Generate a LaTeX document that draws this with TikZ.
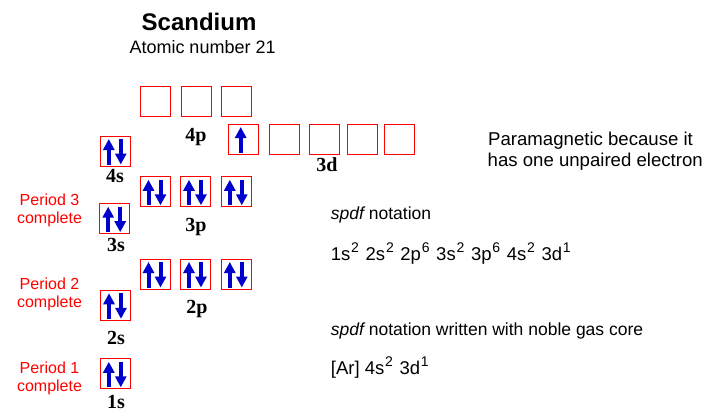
\documentclass[tikz,border=0pt]{standalone}
\usepackage{fontspec}
\setmainfont{Liberation Serif}
\setsansfont{Liberation Sans}
\usetikzlibrary{arrows.meta}
\definecolor{eblue}{RGB}{0,0,204}
\definecolor{ored}{RGB}{255,0,0}
\newcommand\elup[2]{\draw[el] ([shift={(#2,13.5)}]#1.center) -- ([shift={(#2,-12)}]#1.center);}
\newcommand\eldown[2]{\draw[el] ([shift={(#2,-12)}]#1.center) -- ([shift={(#2,13.5)}]#1.center);}
\newcommand\elpair[1]{\elup{#1}{-6.5}\eldown{#1}{5.5}}
\newcommand\sps[1]{\hspace{0.8pt}\raisebox{0.4em}{\fontsize{14}{14}\selectfont #1}\hspace{1.5pt}}
\begin{document}
\begin{tikzpicture}[x=1pt,y=-1pt,
  orb/.style={draw=ored,line width=0.9pt,minimum size=30pt,inner sep=0pt},
  lbl/.style={font=\fontsize{20}{22}\selectfont\bfseries,anchor=base,inner sep=0pt},
  txt/.style={font=\sffamily\fontsize{18}{20}\selectfont,anchor=base west,inner sep=0pt},
  note/.style={font=\sffamily\fontsize{17.5}{20}\selectfont,anchor=base west,inner sep=0pt},
  cfg/.style={font=\sffamily\fontsize{18.5}{20}\selectfont,anchor=base west,inner sep=0pt},
  per/.style={font=\sffamily\fontsize{16}{18}\selectfont,text=ored,anchor=base,inner sep=0pt},
  el/.style={draw=eblue,line width=4pt,-{Triangle[width=11pt,length=11pt]}}
]
\useasboundingbox (0,0) rectangle (709,412);
% title
\node[font=\sffamily\bfseries\fontsize{24}{26}\selectfont,anchor=base,inner sep=0pt] (title) at (199,30.5) {Scandium};
\node[txt] (anum) at (129.3,53.5) {Atomic number 21};
% orbital boxes
\node[orb] (s4) at (115.3,151) {};
\node[orb] (p4a) at (155.5,101.3) {};
\node[orb] (p4b) at (196,101.3) {};
\node[orb] (p4c) at (236.5,101.3) {};
\node[orb] (d3a) at (243.7,139) {};
\node[orb] (d3b) at (284,139) {};
\node[orb] (d3c) at (324.7,139) {};
\node[orb] (d3d) at (362.2,139) {};
\node[orb] (d3e) at (399.3,139) {};
\node[orb] (p3a) at (155,191.8) {};
\node[orb] (p3b) at (195.5,191.8) {};
\node[orb] (p3c) at (236.3,191.8) {};
\node[orb] (s3) at (114.7,218.7) {};
\node[orb] (p2a) at (155,274) {};
\node[orb] (p2b) at (195.5,274) {};
\node[orb] (p2c) at (236.3,274) {};
\node[orb] (s2) at (115.5,305.3) {};
\node[orb] (s1) at (115.3,373.8) {};
% electrons
\elpair{s4}
\elup{d3a}{-3}
\elpair{p3a}\elpair{p3b}\elpair{p3c}
\elpair{s3}
\elpair{p2a}\elpair{p2b}\elpair{p2c}
\elpair{s2}
\elpair{s1}
% subshell labels
\node[lbl] (l4s) at (115,182) {4s};
\node[lbl] (l4p) at (196,141) {4p};
\node[lbl] (l3d) at (327,171.5) {3d};
\node[lbl] (l3p) at (196,231.5) {3p};
\node[lbl] (l3s) at (116,251.5) {3s};
\node[lbl] (l2p) at (197,313) {2p};
\node[lbl] (l2s) at (116,344) {2s};
\node[lbl] (l1s) at (116,408.5) {1s};
% period labels
\node[per] (p3l1) at (49.5,205) {Period 3};
\node[per] (p3l2) at (49.5,223.3) {complete};
\node[per] (p2l1) at (49.5,289) {Period 2};
\node[per] (p2l2) at (49.5,307) {complete};
\node[per] (p1l1) at (49.5,373) {Period 1};
\node[per] (p1l2) at (49.5,391) {complete};
% right-hand text
\node[font=\sffamily\fontsize{18.6}{20}\selectfont,anchor=base west,inner sep=0pt] (para1) at (488,145.5) {Paramagnetic because it};
\node[font=\sffamily\fontsize{18.6}{20}\selectfont,anchor=base west,inner sep=0pt] (para2) at (487.5,166) {has one unpaired electron};
\node[note] (spdf1) at (330.7,219) {\itshape spdf\upshape\ notation};
\node[cfg] (spdf2) at (330.7,260) {1s\sps{2} 2s\sps{2} 2p\sps{6} 3s\sps{2} 3p\sps{6} 4s\sps{2} 3d\sps{1}};
\node[note] (ng1) at (330.7,335) {\itshape spdf\upshape\ notation written with noble gas core};
\node[cfg] (ng2) at (330.7,374) {[Ar] 4s\sps{2} 3d\sps{1}};
\end{tikzpicture}
\end{document}
